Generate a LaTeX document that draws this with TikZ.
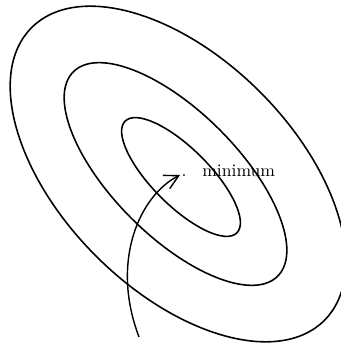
\documentclass[tikz,border=0pt]{standalone}
\usetikzlibrary{arrows.meta, positioning}

\begin{document}
\begin{tikzpicture}[
    >={Straight Barb[length=2.8mm, width=3mm]},
    contour/.style={
        draw,
        line width=0.9pt
    },
    arrow/.style={->, line width=0.8pt},
    label/.style={
        font=\normalsize,
        inner sep=0pt
    }
]

\useasboundingbox (0,0) rectangle (6.8,6.96);

% level curves
\draw[contour, rotate around={-45:(3.56,3.48)}] (3.56,3.48) ellipse (4.14cm and 2.32cm);
\draw[contour, rotate around={-45:(3.51,3.48)}] (3.51,3.48) ellipse (2.89cm and 1.25cm);
\draw[contour, rotate around={-45:(3.62,3.42)}] (3.62,3.42) ellipse (1.58cm and 0.57cm);

\coordinate (start) at (2.78,0.22);
\coordinate (tip) at (3.60,3.46);
\node[label, anchor=base] (dot) at (3.68,3.42) {.};
\node[label, anchor=base west] (minimum) at (4.04,3.42) {minimum};

\draw[arrow] (start) .. controls (2.20,1.75) and (2.80,3.05) .. (tip);

\end{tikzpicture}
\end{document}
